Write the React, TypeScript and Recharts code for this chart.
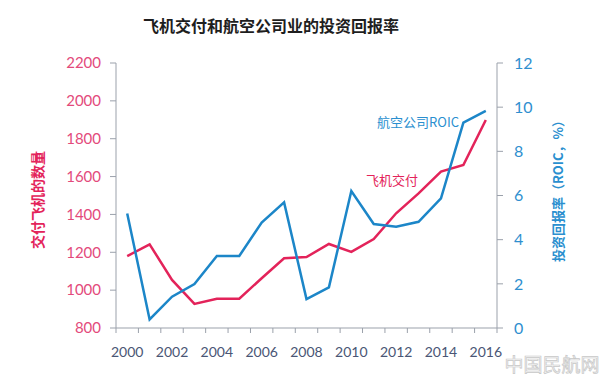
// 飞机交付与航空公司ROIC — 双轴折线图 (Recharts)
import { LineChart, Line, XAxis, YAxis } from 'recharts';

const years = [2000, 2001, 2002, 2003, 2004, 2005, 2006, 2007, 2008, 2009, 2010, 2011, 2012, 2013, 2014, 2015, 2016];
const deliveries = [1180, 1242, 1054, 927, 955, 955, 1063, 1168, 1175, 1244, 1202, 1270, 1406, 1511, 1626, 1661, 1899];
const roic = [5.19, 0.39, 1.42, 1.99, 3.26, 3.26, 4.77, 5.69, 1.31, 1.84, 6.2, 4.71, 4.59, 4.81, 5.87, 9.3, 9.83];
const xTicks = [2000, 2002, 2004, 2006, 2008, 2010, 2012, 2014, 2016];
const leftTicks = [800, 1000, 1200, 1400, 1600, 1800, 2000, 2200];
const rightTicks = [0, 2, 4, 6, 8, 10, 12];

const data = years.map((year, i) => ({ year, deliveries: deliveries[i], roic: roic[i] }));

const RED = '#e3235a';
const BLUE = '#1c86c8';
const AXIS = '#9ba1ab';
const FONT = 'Lato, "Noto Sans", sans-serif';
const CJK = '"Noto Sans CJK SC", sans-serif';

const PLOT_W = 381;
const HALF_BAND = PLOT_W / years.length / 2;

function YearTick({ x, y, payload }: any) {
  return (
    <g>
      <line x1={x - HALF_BAND} x2={x - HALF_BAND} y1={y} y2={y + 5} stroke={AXIS} />
      <line x1={x + HALF_BAND} x2={x + HALF_BAND} y1={y} y2={y + 5} stroke={AXIS} />
      <text x={x} y={y + 29} textAnchor="middle" fontSize={14} fill="#4a5675" fontFamily={FONT}>
        {payload.value}
      </text>
    </g>
  );
}

export default function App() {
  return (
    <div style={{ position: 'relative', width: 600, height: 378, background: '#fff' }}>
      <style>{'body{margin:0}'}</style>
      <LineChart width={600} height={378} data={data} margin={{ top: 63, right: 0, bottom: 20, left: 0 }}>
        <XAxis
          dataKey="year"
          type="number"
          domain={[1999.5, 2016.5]}
          ticks={xTicks}
          tickSize={0}
          tickMargin={0}
          height={30}
          stroke={AXIS}
          tick={<YearTick />}
        />
        <YAxis
          yAxisId="left"
          width={116}
          domain={[800, 2200]}
          ticks={leftTicks}
          stroke={AXIS}
          tickSize={6}
          tickMargin={9}
          tick={{ fontSize: 15, fill: '#e34a7b', fontFamily: FONT }}
        />
        <YAxis
          yAxisId="right"
          orientation="right"
          width={103}
          domain={[0, 12]}
          ticks={rightTicks}
          stroke={AXIS}
          tickSize={6}
          tickMargin={11}
          tick={{ fontSize: 16, fill: '#2f8fcf', fontFamily: FONT }}
        />
        <Line yAxisId="left" dataKey="deliveries" stroke={RED} strokeWidth={2.5} dot={false} isAnimationActive={false} />
        <Line yAxisId="right" dataKey="roic" stroke={BLUE} strokeWidth={2.5} dot={false} isAnimationActive={false} />
      </LineChart>
      <svg width={600} height={378} style={{ position: 'absolute', left: 0, top: 0, pointerEvents: 'none' }}>
        <text x={271} y={32} textAnchor="middle" fontSize={16} fontWeight="bold" fill="#1e1e1e" fontFamily={CJK}>
          飞机交付和航空公司业的投资回报率
        </text>
        <text transform="translate(43,200) rotate(-90)" textAnchor="middle" fontSize={14} fontWeight="bold" fill={RED} fontFamily={CJK}>
          交付飞机的数量
        </text>
        <text transform="translate(563,188) rotate(-90)" textAnchor="middle" fontSize={13} fontWeight="bold" fill="#2a8fcf" fontFamily={CJK}>
          投资回报率（ROIC，%）
        </text>
        <text x={418} y={127} textAnchor="middle" fontSize={13} fill="#2a8fcf" fontFamily={CJK}>
          航空公司ROIC
        </text>
        <text x={392} y={185} textAnchor="middle" fontSize={13} fill={RED} fontFamily={CJK}>
          飞机交付
        </text>
        <text x={552} y={372} textAnchor="middle" fontSize={19} fill="#f4f4f4" stroke="#c8c8c8" strokeWidth={0.7} fontFamily={CJK}>
          中国民航网
        </text>
      </svg>
    </div>
  );
}
